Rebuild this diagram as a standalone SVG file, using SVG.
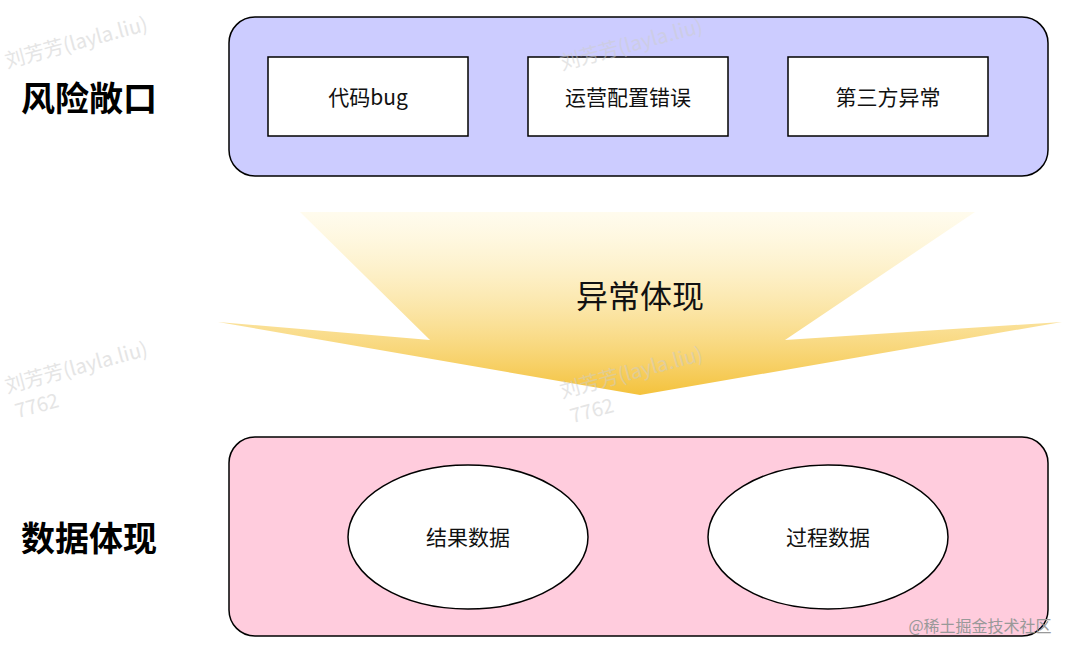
<svg xmlns="http://www.w3.org/2000/svg" width="1081" height="654" viewBox="0 0 1081 654">
<defs>
<linearGradient id="g" x1="0" y1="0" x2="0" y2="1">
<stop offset="0" stop-color="#fff3c4" stop-opacity="0.3"/>
<stop offset="1" stop-color="#f4c23c"/>
</linearGradient>
<style>
text{font-family:"Noto Sans CJK SC","Noto Sans",sans-serif;text-anchor:middle;dominant-baseline:central}
.b{fill:#fff;stroke:#000;stroke-width:1.5}
.t{font-size:21px;fill:#111}
.h{font-size:34px;font-weight:bold;fill:#000}
.w{font-size:20px;fill:#ccc;opacity:0.5;text-anchor:start}
</style>
</defs>
<rect width="1081" height="654" fill="#fff"/>
<g id="arrow">
<polygon points="300,212 975,212 785,340 1062,322 640,395 218,322 430,340" fill="url(#g)"/>
<text x="640" y="294" style="font-size:32px;fill:#111">异常体现</text>
</g>
<g id="risk">
<rect x="229" y="17" width="819" height="159" rx="26" fill="#ccccff" stroke="#000" stroke-width="1.5"/>
<text class="h" x="89" y="96">风险敞口</text>
</g>
<g id="n1"><rect class="b" x="268" y="57" width="200" height="79"/><text class="t" x="368" y="96">代码bug</text></g>
<g id="n2"><rect class="b" x="528" y="57" width="200" height="79"/><text class="t" x="628" y="96">运营配置错误</text></g>
<g id="n3"><rect class="b" x="788" y="57" width="200" height="79"/><text class="t" x="888" y="96">第三方异常</text></g>
<g id="data">
<rect x="229" y="437" width="819" height="199" rx="26" fill="#ffccdd" stroke="#000" stroke-width="1.5"/>
<text class="h" x="89" y="536">数据体现</text>
</g>
<g id="n4"><ellipse class="b" cx="468" cy="537" rx="120" ry="72"/><text class="t" x="468" y="536">结果数据</text></g>
<g id="n5"><ellipse class="b" cx="828" cy="537" rx="120" ry="72"/><text class="t" x="828" y="536">过程数据</text></g>
<g id="connectors"/>
<g id="watermarks">
<text class="w" x="5" y="60" transform="rotate(-15 5 60)">刘芳芳(layla.liu)</text>
<text class="w" x="560" y="62" transform="rotate(-15 560 62)">刘芳芳(layla.liu)</text>
<text class="w" x="5" y="385" transform="rotate(-15 5 385)">刘芳芳(layla.liu)</text>
<text class="w" x="15" y="410" transform="rotate(-15 15 410)">7762</text>
<text class="w" x="560" y="390" transform="rotate(-15 560 390)">刘芳芳(layla.liu)</text>
<text class="w" x="570" y="415" transform="rotate(-15 570 415)">7762</text>
<text x="980" y="625" style="font-size:16px;fill:#999">@稀土掘金技术社区</text>
</g>
</svg>
